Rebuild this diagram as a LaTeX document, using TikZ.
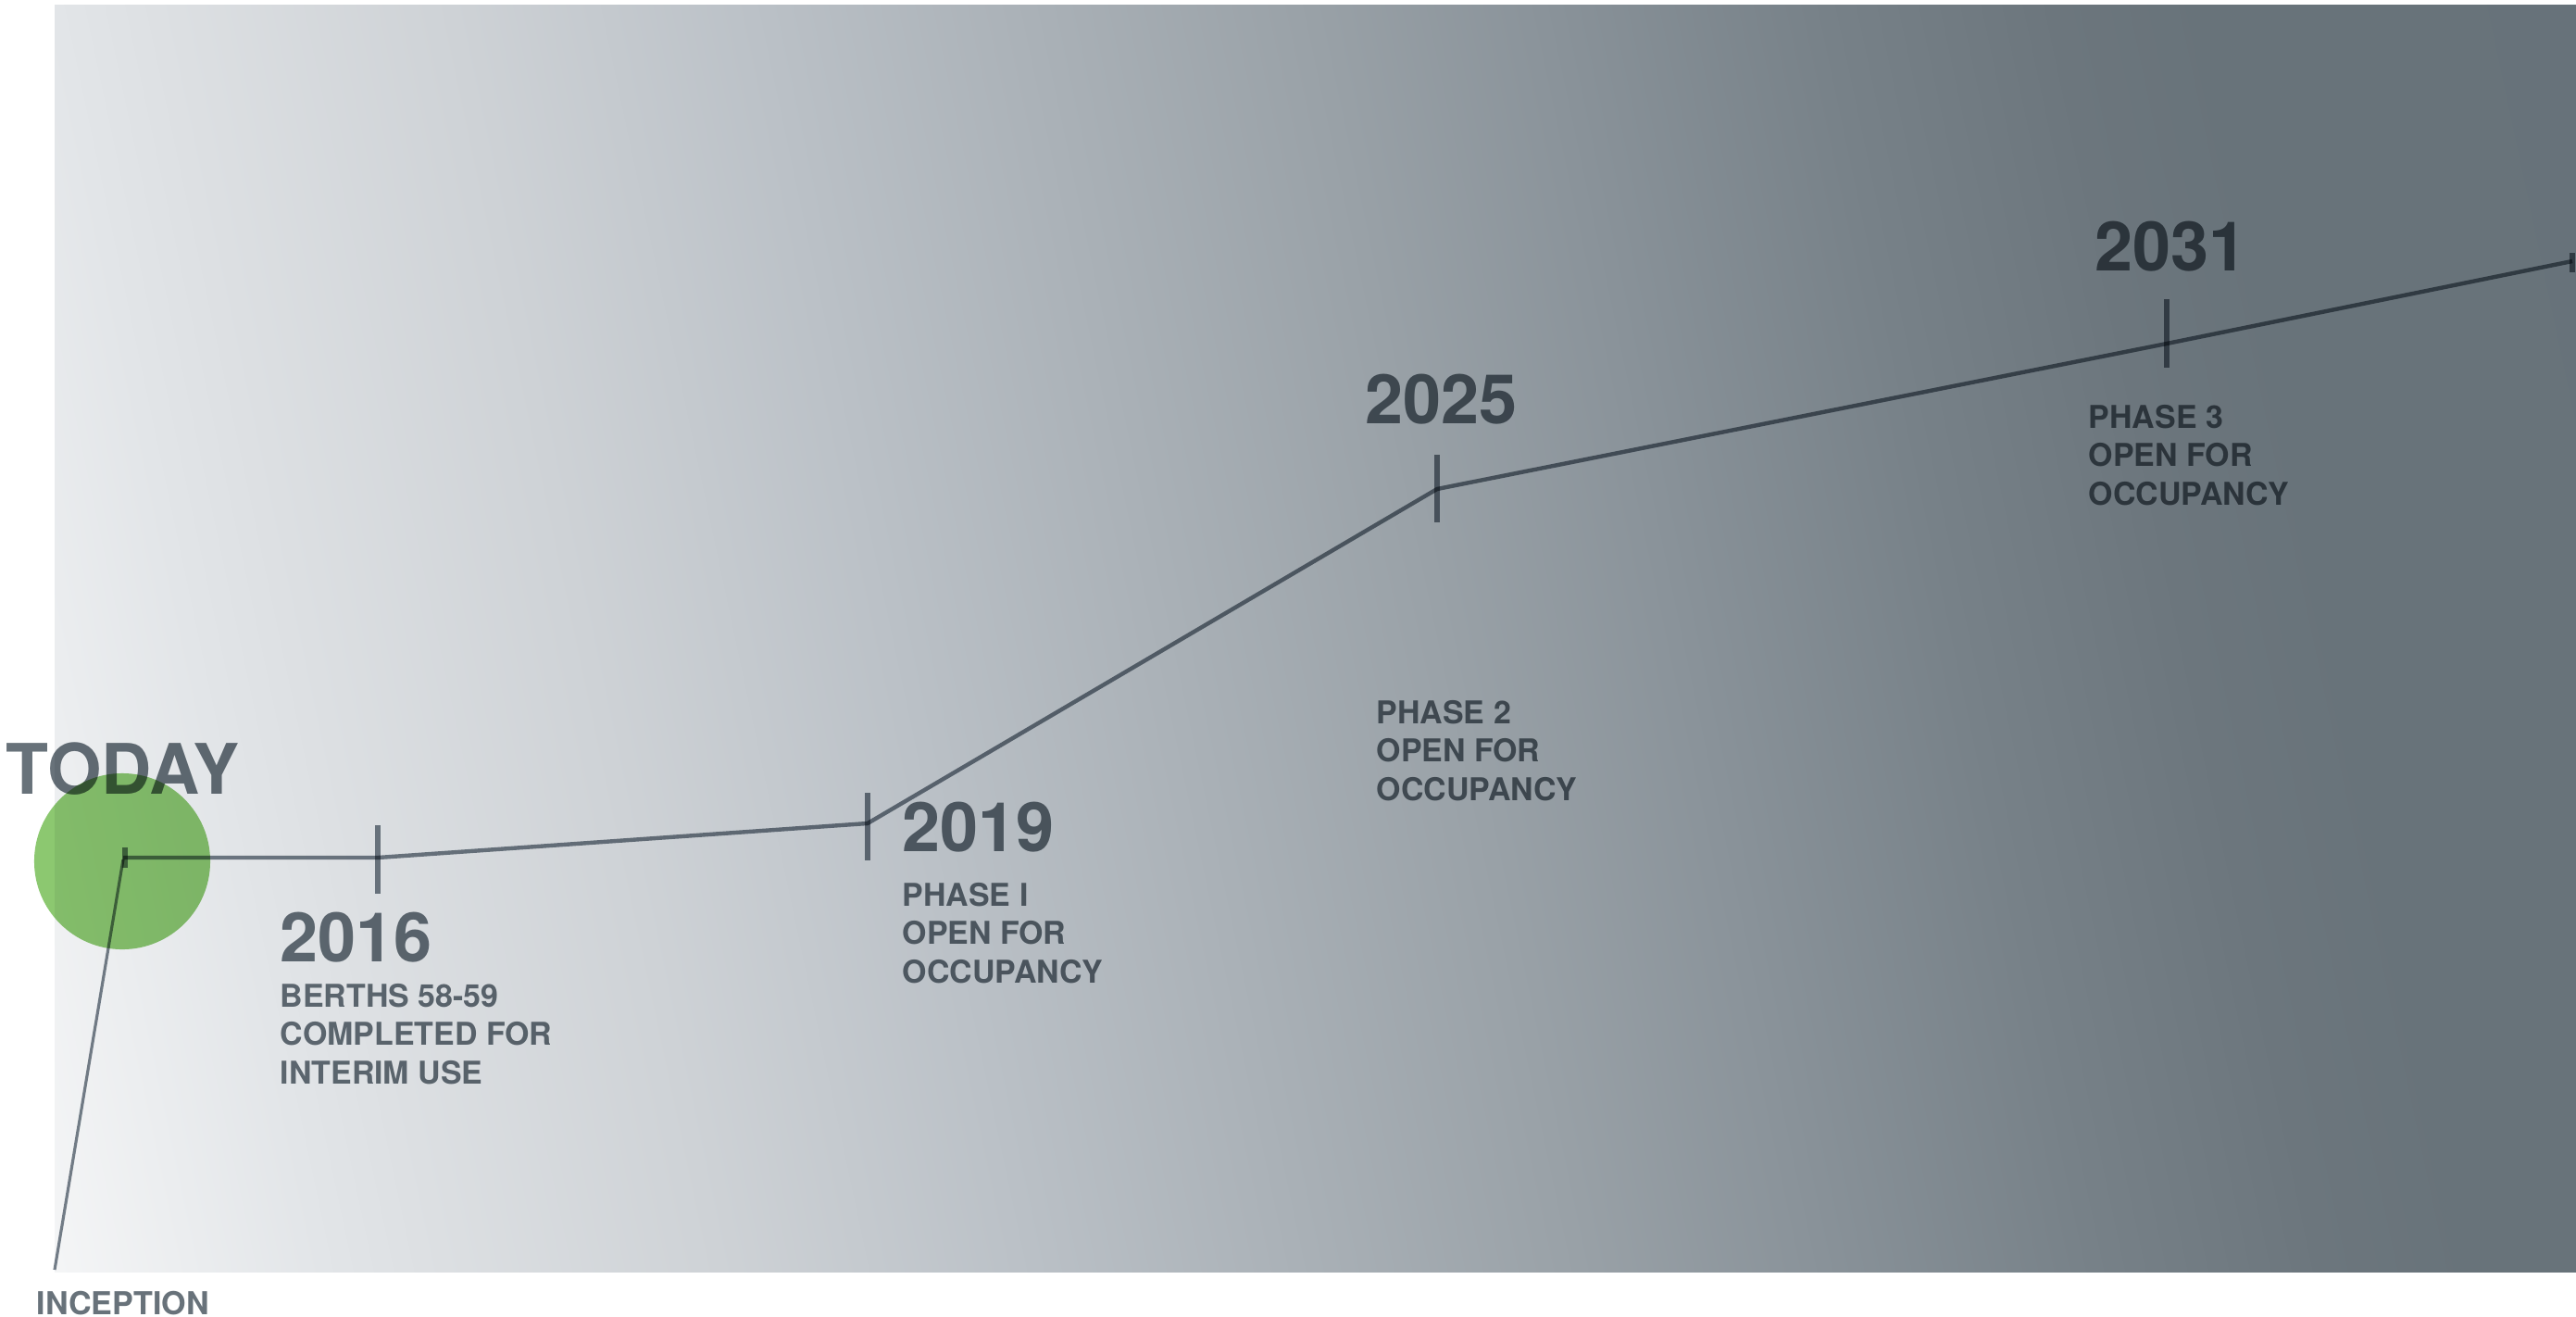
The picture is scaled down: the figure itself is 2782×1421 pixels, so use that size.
\documentclass[tikz,border=0pt]{standalone}
\usepackage{fontspec}
\setmainfont{TeX Gyre Heros}

% backdrop colours, light on the left to slate on the right
\definecolor{bgA}{HTML}{F7F8F9}
\definecolor{bgB}{HTML}{F4F5F6}
\definecolor{bgC}{HTML}{E2E5E8}
\definecolor{bgD}{HTML}{DDE0E3}
\definecolor{bgE}{HTML}{CED2D6}
\definecolor{bgF}{HTML}{BBC1C7}
\definecolor{bgG}{HTML}{AAB1B7}
\definecolor{bgH}{HTML}{99A1A7}
\definecolor{bgI}{HTML}{8A939A}
\definecolor{bgJ}{HTML}{778188}
\definecolor{bgK}{HTML}{6C767D}
\definecolor{bgL}{HTML}{68737A}
\definecolor{bgM}{HTML}{67727A}

\definecolor{inkgray}{HTML}{68727A}
\definecolor{linegray}{HTML}{78828C}
\definecolor{todaygreen}{RGB}{140,200,112}

% only the span 25bp--75bp of a shading covers the shaded path
\pgfdeclarehorizontalshading{backdrop}{100bp}{%
  color(0bp)=(bgA); color(25bp)=(bgA); color(28.68bp)=(bgB);
  color(32.8bp)=(bgC); color(34.37bp)=(bgD); color(38.97bp)=(bgE);
  color(43.6bp)=(bgF); color(47.93bp)=(bgG); color(52.33bp)=(bgH);
  color(55.88bp)=(bgI); color(60.3bp)=(bgJ); color(63.86bp)=(bgK);
  color(66.18bp)=(bgL); color(75bp)=(bgM); color(100bp)=(bgM)}

\begin{document}
\begin{tikzpicture}[x=0.01cm,y=0.01cm,
  year/.style={anchor=base west, inner sep=0pt, text=inkgray,
    font=\bfseries\fontsize{21}{25}\selectfont},
  note/.style={anchor=base west, inner sep=0pt, text=inkgray, align=left,
    font=\bfseries\fontsize{9.65}{11.67}\selectfont},
  track/.style={draw=linegray, line width=1.25pt, line join=round},
  tickmark/.style={draw=linegray, line width=1.45pt},
  leader/.style={draw=linegray, line width=0.9pt}]

\useasboundingbox (0,0) rectangle (2782,-1421);
\fill[white] (0,0) rectangle (2782,-1421);

% graded backdrop, bands leaning slightly to the right
\begin{scope}
  \clip (59,-5) rectangle (2782,-1373);
  \begin{scope}[transform canvas={rotate around={12:(1420,-690)}}]
    \shade[shading=backdrop] (-300,-2200) rectangle (3100,800);
  \end{scope}
\end{scope}

% everything on top darkens what lies beneath it
\begin{scope}[blend mode=multiply]
  % marker for the present
  \node[circle, fill=todaygreen, minimum size=1.9cm, inner sep=0pt] (todaydot) at (132,-930) {};

  % points along the timeline
  \coordinate (p0) at (133,-926);
  \coordinate (p1) at (408,-926);
  \coordinate (p2) at (937,-889);
  \coordinate (p3) at (1552,-528);
  \coordinate (p4) at (2340,-371);
  \coordinate (p5) at (2778,-282);
  \coordinate (incep) at (59,-1371);

  \draw[track] (p0) -- (p1) -- (p2) -- (p3) -- (p4) -- (p5);
  \draw[leader] (133,-928) -- (incep);

  % tick marks
  \draw[tickmark] (135,-915) -- (135,-937);
  \draw[tickmark] (408,-891) -- (408,-965);
  \draw[tickmark] (937,-856) -- (937,-929);
  \draw[tickmark] (1552,-491) -- (1552,-564);
  \draw[tickmark] (2340,-323) -- (2340,-397);
  \draw[tickmark] (2778,-273) -- (2778,-294);

  % labels (a multi-line label sits on the baseline of its last line)
  \node[anchor=base west, inner sep=0pt, text=inkgray,
    font=\bfseries\fontsize{21.4}{25}\selectfont] (today) at (6,-857) {TODAY};
  \node[anchor=base west, inner sep=0pt, text=inkgray,
    font=\bfseries\fontsize{9.7}{11.67}\selectfont] (inception) at (39,-1419) {INCEPTION};

  \node[year] (y2016) at (302,-1038) {2016};
  \node[note] (t2016) at (302,-1170) {BERTHS 58-59\\COMPLETED FOR\\INTERIM USE};

  \node[year] (y2019) at (974,-919) {2019};
  \node[note] (t2019) at (974,-1061) {PHASE I\\OPEN FOR\\OCCUPANCY};

  \node[year] (y2025) at (1474,-457) {2025};
  \node[note] (t2025) at (1486,-864) {PHASE 2\\OPEN FOR\\OCCUPANCY};

  \node[year] (y2031) at (2262,-292) {2031};
  \node[note] (t2031) at (2255,-545) {PHASE 3\\OPEN FOR\\OCCUPANCY};
\end{scope}
\end{tikzpicture}
\end{document}
